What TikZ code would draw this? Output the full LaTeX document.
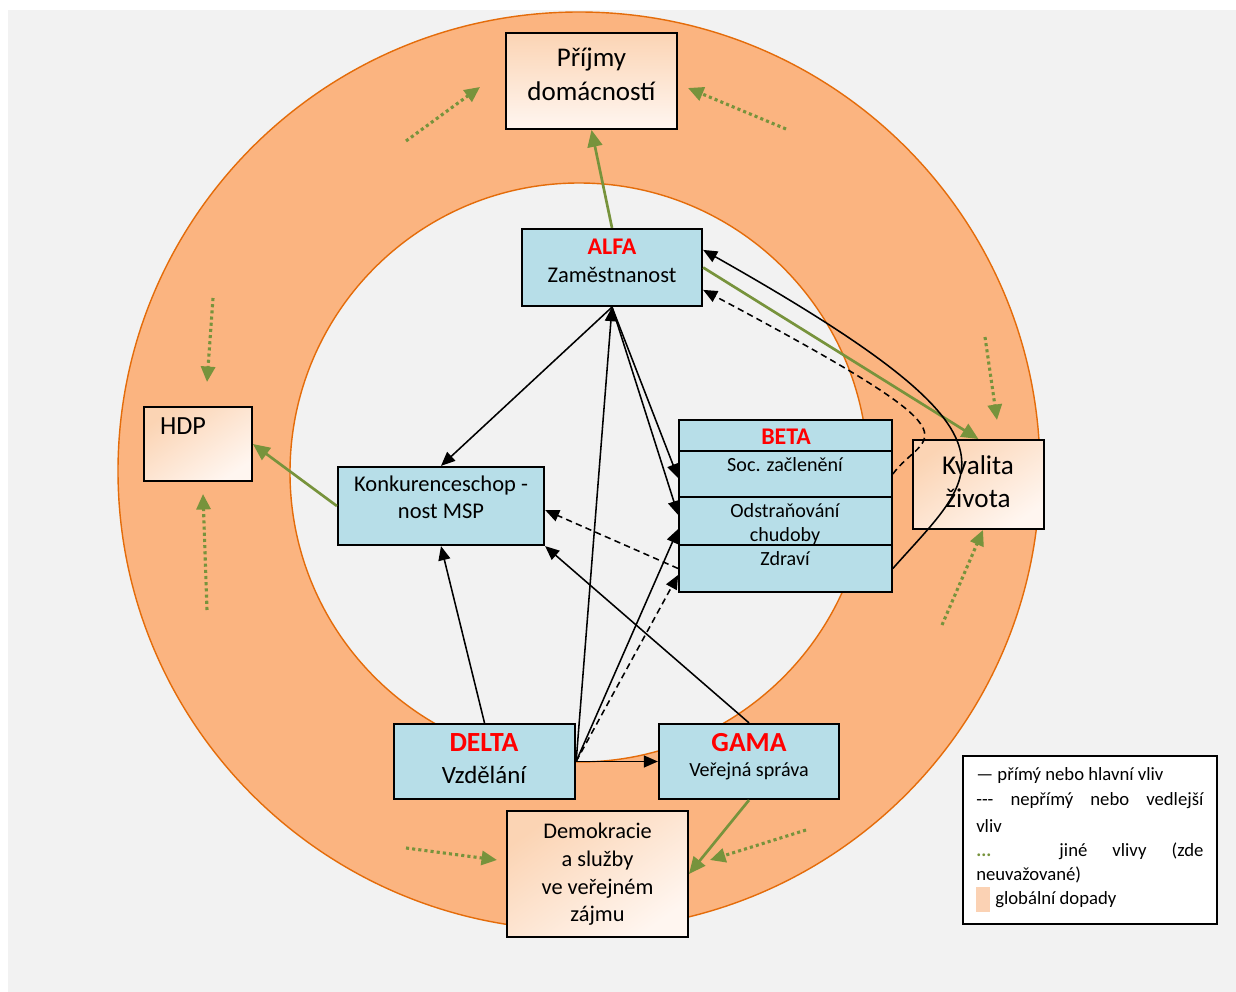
\documentclass[tikz,border=0pt]{standalone}
\usepackage{fontspec}
\setmainfont{Carlito}
\usetikzlibrary{arrows.meta,fit,calc}
\definecolor{bggray}{HTML}{F2F2F2}
\definecolor{ring}{HTML}{FBB480}
\definecolor{ringline}{HTML}{E46C0A}
\definecolor{boxblue}{HTML}{B7DEE8}
\definecolor{vgreen}{HTML}{77933C}
\definecolor{peachA}{HTML}{FBD4B4}
\definecolor{peachB}{HTML}{FFF6F0}
\definecolor{swatch}{HTML}{FBD2B4}
\newcommand\fz[2]{\fontsize{#1pt}{#2pt}\selectfont}
\begin{document}
\begin{tikzpicture}[x=0.025cm,y=-0.025cm,
  blk/.style={-{Triangle[length=10pt,width=8.5pt]}, line width=1.1pt, draw=black},
  dsh/.style={blk, dash pattern=on 4.5pt off 3pt},
  grn/.style={-{Triangle[length=12pt,width=10.5pt]}, line width=1.9pt, draw=vgreen, color=vgreen},
  dotg/.style={-{Triangle[length=11pt,width=10pt]}, line width=2.2pt, draw=vgreen, color=vgreen, dash pattern=on 2.2pt off 2.2pt},
  bluebox/.style={draw=black, line width=1.6pt, fill=boxblue, inner sep=0pt},
  betarow/.style={draw=black, line width=1.2pt, fill=boxblue, inner sep=0pt},
  peachbox/.style={draw=black, line width=1.3pt, top color=peachA, bottom color=peachB, shading angle=35, inner sep=0pt},
  lg/.style={font=\fz{13.3}{17.8}, anchor=west, inner sep=0pt},
  ttl/.style={text=red, font=\bfseries}
]
\useasboundingbox (0,0) rectangle (1236,992);
\fill[white] (0,0) rectangle (1236,992);
\fill[bggray] (8,10) rectangle (1236,992);
% rings
\draw[fill=ring, draw=ringline, line width=1pt] (579,471) ellipse [x radius=461, y radius=459];
\draw[fill=bggray, draw=ringline, line width=1pt] (579,472.5) ellipse [x radius=289, y radius=289.5];

% boxes
\node[peachbox, shading angle=0, fit={(506,33) (677,129)}] (prijmy) {};
\node[peachbox, fit={(144,407) (252,481)}] (hdp) {};
\node[peachbox, fit={(913,440) (1044,529)}] (kval) {};
\node[peachbox, fit={(507,811) (688,937)}] (demo) {};
\node[bluebox, fit={(522,229) (702,306)}] (alfa) {};
\node[bluebox, fit={(338,467) (544,545)}] (konk) {};
\node[bluebox, fit={(394,724) (575,799)}] (delta) {};
\node[bluebox, fit={(659,724) (839,799)}] (gama) {};
\node[betarow, fit={(679,420) (892,451)}] (betah) {};
\node[betarow, fit={(679,451) (892,497)}] (soc) {};
\node[betarow, fit={(679,497) (892,545)}] (odst) {};
\node[align=center, font=\fz{14.3}{17}] (odstT) at (785,524) {Odstraňování\\chudoby};
\node[betarow, fit={(679,545) (892,592)}] (zdr) {};

% texts
\node[align=center, font=\fz{19.2}{24.2}] (prijmyT) at (591.5,74) {Příjmy\\domácností};
\node[ttl, font=\fz{17}{20}\bfseries] (alfaT1) at (612,247) {ALFA};
\node[font=\fz{16}{19}] (alfaT2) at (612,275) {Zaměstnanost};
\node[font=\fz{18.6}{22}] (hdpT) at (183,426) {HDP};
\node[align=center, font=\fz{16}{19.2}] (konkT) at (441,497.5) {Konkurenceschop -\\nost MSP};
\node[ttl, font=\fz{17}{20}\bfseries] (betaT) at (786,437) {BETA};
\node[font=\fz{14.3}{17}] (socT) at (785,465) {Soc. začlenění};
\node[font=\fz{14.3}{17}] (zdrT) at (785,559) {Zdraví};
\node[align=center, font=\fz{19.3}{23.5}] (kvalT) at (978,481.5) {Kvalita\\života};
\node[ttl, font=\fz{19.7}{23}\bfseries] (deltaT1) at (484,743) {DELTA};
\node[font=\fz{17.7}{21}] (deltaT2) at (484,775) {Vzdělání};
\node[ttl, font=\fz{19.6}{23}\bfseries] (gamaT1) at (749,743) {GAMA};
\node[font=\fz{14.3}{17}] (gamaT2) at (749,771) {Veřejná správa};
\node[align=center, font=\fz{15.9}{19.7}] (demoT) at (597.5,874.5) {Demokracie\\a služby\\ve veřejném\\zájmu};

% legend
\node[draw=black, line width=1.3pt, fill=white, inner sep=0pt, fit={(963,756) (1217,924)}] (legend) {};
\node[lg] (lg1) at (976,776) {— přímý nebo hlavní vliv};
\node[lg] (lg2) at (976,801) {\makebox[161.5pt][s]{-{}-{}- nepřímý nebo vedlejší}};
\node[lg] (lg3) at (976,826) {vliv};
\node[lg] (lg4) at (976,851) {\makebox[161.5pt][s]{\textcolor{vgreen}{\textbf{...}} jiné vlivy (zde}};
\node[lg] (lg5) at (976,875) {neuvažované)};
\node[fill=swatch, inner sep=0pt, fit={(976,887) (990,912)}] (swatch) {};
\node[lg] (lg6) at (995,900) {globální dopady};

% green dotted (other influences)
\coordinate (d1a) at (406,141); \coordinate (d1b) at (480,87);
\coordinate (d2a) at (786,129); \coordinate (d2b) at (688,88);
\coordinate (d3a) at (213,298); \coordinate (d3b) at (207,382);
\coordinate (d4a) at (207,610); \coordinate (d4b) at (203,494);
\coordinate (d5a) at (985,337); \coordinate (d5b) at (997,420);
\coordinate (d6a) at (942,625); \coordinate (d6b) at (983,530);
\coordinate (d7a) at (406,848); \coordinate (d7b) at (497,860);
\coordinate (d8a) at (806,830); \coordinate (d8b) at (710,860);
\foreach \i in {1,...,8} {\draw[dotg] (d\i a) -- (d\i b);}

% green solid (global impacts)
\draw[grn] (alfa.north) -- (prijmy.south);
\draw[grn] (alfa.east) -- (kval.north);
\draw[grn] (konk.west) -- (hdp.east);
\draw[grn] (gama.south) -- (demo.east);

% black connectors
\draw[blk] (alfa.south) -- (konk.north);
\draw[blk] (alfa.south) -- ([yshift=-0.1cm]soc.west);
\draw[blk] (alfa.south) -- ([yshift=0.15cm]odst.west);
\draw[blk] (delta.east) -- (alfa.south);
\draw[blk] (delta.east) -- ([yshift=-0.2cm]odst.west);
\draw[dsh] (delta.east) -- ([yshift=-0.16cm]zdr.west);
\draw[blk] (delta.east) -- (gama.west);
\draw[blk] (delta.north) -- (konk.south);
\draw[blk] (gama.north) -- (konk.south east);
\draw[dsh] (zdr.west) -- ([yshift=-0.1cm]konk.east);
\draw[blk] (zdr.east) .. controls (980,470) and (1040,440) .. ([yshift=0.44cm]alfa.east);
\draw[dsh] (soc.east) .. controls (925,430) and (995,445) .. ([yshift=-0.56cm]alfa.east);
\end{tikzpicture}
\end{document}
